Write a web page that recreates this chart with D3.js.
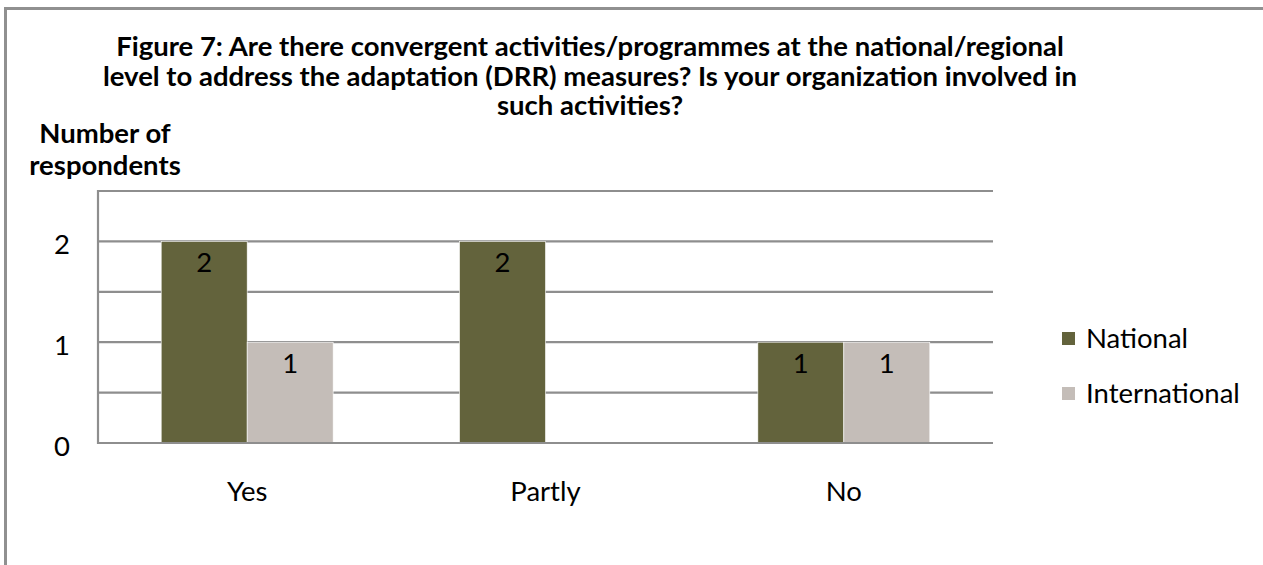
<!DOCTYPE html>
<html>
<head>
<meta charset="utf-8">
<script src="https://cdn.jsdelivr.net/npm/d3@7/dist/d3.min.js"></script>
<style>
  html, body { margin: 0; padding: 0; background: #fff; }
  svg { display: block; font-family: Lato, "Open Sans", sans-serif; }
</style>
</head>
<body>
<svg id="chart" width="1263" height="565"></svg>
<script>
// Survey responses by organisation type
const categories = ["Yes", "Partly", "No"];
const seriesNames = ["National", "International"];
const nationalValues = [2, 2, 1];
const internationalValues = [1, 0, 1];
const yTickLabels = [0, 1, 2];
const gridSteps = [0, 0.5, 1, 1.5, 2, 2.5];

const titleLines = [
  "Figure 7: Are there convergent activities/programmes at the national/regional",
  "level to address the adaptation (DRR) measures? Is your organization involved in",
  "such activities?"
];
const axisTitleLines = ["Number of", "respondents"];

const colors = { National: "#63633C", International: "#C4BDB8" };
const gridColor = "#8E8E8E";
const labelSize = 27.5;
const titleSize = 27.5;

const svg = d3.select("#chart");

// Outer chart frame (top and left edges)
svg.append("path")
  .attr("d", "M5.5,566 V8.5 H1264")
  .attr("fill", "none")
  .attr("stroke", "#909090")
  .attr("stroke-width", 3);

const plot = { left: 98, right: 993, top: 191, bottom: 443 };

const x0 = d3.scaleBand()
  .domain(categories)
  .range([plot.left, plot.right])
  .padding(0);

const x1 = d3.scaleBand()
  .domain(seriesNames)
  .range([0, x0.bandwidth()])
  .paddingInner(0)
  .paddingOuter(0.735);

const y = d3.scaleLinear()
  .domain([0, 2.5])
  .range([plot.bottom, plot.top]);

// Horizontal gridlines
svg.append("g")
  .selectAll("line")
  .data(gridSteps.filter(d => d > 0))
  .join("line")
  .attr("x1", plot.left)
  .attr("x2", plot.right)
  .attr("y1", d => y(d))
  .attr("y2", d => y(d))
  .attr("stroke", gridColor)
  .attr("stroke-width", 2.2);

// Bars
const rows = categories.map((c, i) => ({
  category: c,
  values: [
    { series: "National", value: nationalValues[i] },
    { series: "International", value: internationalValues[i] }
  ]
}));

const groups = svg.append("g")
  .selectAll("g")
  .data(rows)
  .join("g")
  .attr("transform", d => `translate(${x0(d.category)},0)`);

groups.selectAll("rect")
  .data(d => d.values.filter(v => v.value > 0))
  .join("rect")
  .attr("x", d => x1(d.series))
  .attr("width", x1.bandwidth())
  .attr("y", d => y(d.value))
  .attr("height", d => y(0) - y(d.value))
  .attr("fill", d => colors[d.series])
  .attr("stroke", "#ffffff")
  .attr("stroke-width", 0.6);

// Value labels inside the bars
groups.selectAll("text")
  .data(d => d.values.filter(v => v.value > 0))
  .join("text")
  .attr("x", d => x1(d.series) + x1.bandwidth() / 2)
  .attr("y", d => y(d.value) + 31)
  .attr("text-anchor", "middle")
  .attr("font-size", labelSize)
  .attr("fill", "#000")
  .text(d => d.value);

// Value axis line and category axis line
svg.append("line")
  .attr("x1", plot.left).attr("x2", plot.left)
  .attr("y1", plot.top - 1).attr("y2", plot.bottom + 1)
  .attr("stroke", gridColor).attr("stroke-width", 2.2);
svg.append("line")
  .attr("x1", plot.left).attr("x2", plot.right)
  .attr("y1", y(0)).attr("y2", y(0))
  .attr("stroke", gridColor).attr("stroke-width", 2.2);

// Y axis labels
const yAxis = d3.axisLeft(y)
  .tickValues(yTickLabels)
  .tickFormat(d3.format("d"))
  .tickSize(0)
  .tickPadding(28);
const yg = svg.append("g")
  .attr("transform", `translate(${plot.left},0)`)
  .call(yAxis);
yg.select(".domain").remove();
yg.selectAll("text")
  .attr("font-family", "Lato, sans-serif")
  .attr("font-size", labelSize)
  .attr("fill", "#000")
  .attr("dy", "0.45em");

// X axis labels
const xAxis = d3.axisBottom(x0).tickSize(0).tickPadding(38);
const xg = svg.append("g")
  .attr("transform", `translate(0,${plot.bottom})`)
  .call(xAxis);
xg.select(".domain").remove();
xg.selectAll("text")
  .attr("font-family", "Lato, sans-serif")
  .attr("font-size", labelSize)
  .attr("fill", "#000");

// Chart title
svg.append("text")
  .attr("text-anchor", "middle")
  .attr("font-size", titleSize)
  .attr("font-weight", "bold")
  .attr("fill", "#000")
  .selectAll("tspan")
  .data(titleLines)
  .join("tspan")
  .attr("x", 590)
  .attr("y", (d, i) => 56 + i * 29.5)
  .text(d => d);

// Value axis title
svg.append("text")
  .attr("text-anchor", "middle")
  .attr("font-size", titleSize)
  .attr("font-weight", "bold")
  .attr("fill", "#000")
  .selectAll("tspan")
  .data(axisTitleLines)
  .join("tspan")
  .attr("x", 105)
  .attr("y", (d, i) => 143 + i * 32)
  .text(d => d);

// Legend
const legend = svg.append("g")
  .selectAll("g")
  .data(seriesNames)
  .join("g")
  .attr("transform", (d, i) => `translate(1062,${332 + i * 55})`);
legend.append("rect")
  .attr("width", 13)
  .attr("height", 13)
  .attr("fill", d => colors[d]);
legend.append("text")
  .attr("x", 24)
  .attr("y", 16)
  .attr("font-size", labelSize)
  .attr("fill", "#000")
  .text(d => d);
</script>
</body>
</html>
